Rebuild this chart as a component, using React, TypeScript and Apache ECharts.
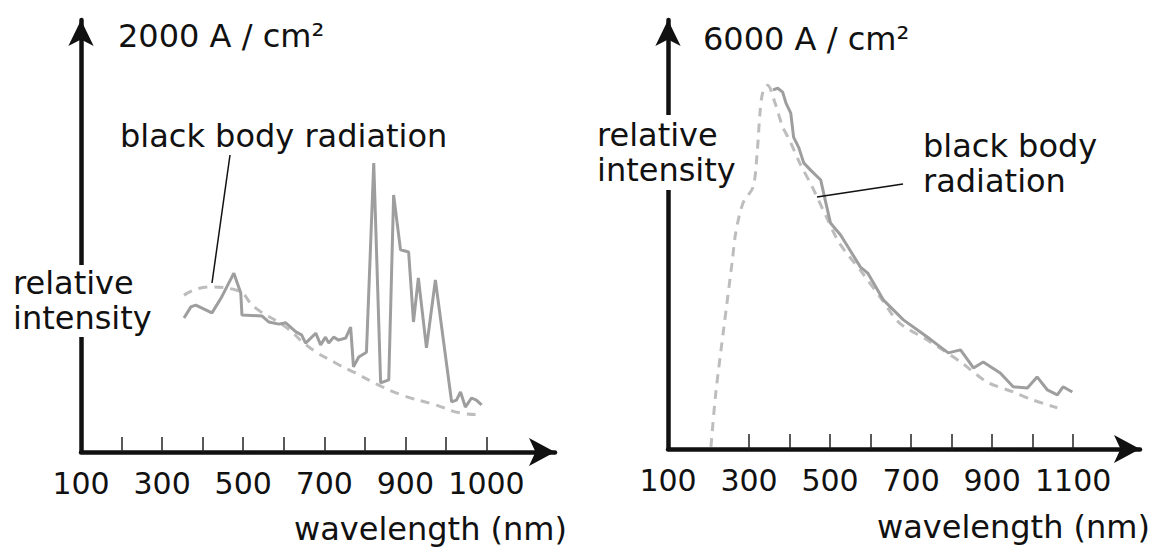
import React, { useEffect, useRef } from "react";
import * as echarts from "echarts";

const FONT = '"DejaVu Sans", "Liberation Sans", sans-serif';

// ---- left panel (2000 A / cm²) ----
const leftSolidX = [354, 371, 383, 423, 447, 477, 494, 497, 546, 563, 588, 605, 630, 644, 654, 679, 691, 703, 711, 723, 735, 753, 765, 772, 785, 804, 822, 839, 859, 871, 888, 908, 920, 932, 952, 974, 1014, 1026, 1036, 1048, 1063, 1075, 1088];
const leftSolidY = [31.0, 33.6, 34.0, 32.2, 35.9, 41.4, 36.8, 31.7, 31.5, 30.1, 29.6, 29.9, 27.8, 27.1, 25.2, 27.5, 24.8, 26.6, 25.2, 26.6, 25.9, 26.4, 28.9, 19.7, 22.0, 23.1, 66.9, 16.0, 16.7, 59.5, 46.8, 46.3, 30.1, 40.3, 24.1, 39.8, 11.6, 12.0, 13.9, 10.4, 12.5, 12.0, 10.9];
const leftBodyX = [354, 415, 482, 531, 605, 662, 728, 777, 834, 891, 974, 1038, 1073];
const leftBodyY = [36.3, 38.2, 37.5, 33.3, 28.9, 24.3, 20.6, 18.3, 15.5, 13.2, 10.9, 9.0, 8.7];
const leftTicks = [200, 300, 400, 500, 600, 700, 800, 900, 1000, 1100];
const leftLabelValues = [100, 300, 500, 700, 900, 1100];
const leftLabelTexts = ["100", "300", "500", "700", "900", "1000"];

// ---- right panel (6000 A / cm²) ----
const rightSolidX = [359, 371, 383, 391, 403, 410, 423, 435, 452, 477, 484, 492, 501, 526, 575, 593, 632, 681, 740, 772, 792, 822, 854, 878, 920, 952, 987, 1011, 1036, 1061, 1075, 1098];
const rightSolidY = [83.7, 84.1, 83.2, 80.7, 78.3, 72.7, 70.2, 66.7, 65.0, 62.7, 59.7, 56.4, 52.7, 49.9, 42.4, 41.0, 34.7, 30.1, 26.1, 23.8, 22.4, 23.1, 18.9, 20.3, 17.7, 14.5, 14.2, 16.8, 13.8, 12.6, 14.5, 13.3];
const rightBodyX = [206, 218, 238, 259, 267, 285, 310, 320, 327, 334, 346, 364, 383, 400, 425, 456, 491, 523, 580, 629, 671, 740, 822, 888, 952, 1001, 1061];
const rightBodyY = [0.5, 13.1, 28.4, 44.1, 50.3, 57.3, 61.1, 69.0, 78.3, 83.2, 84.8, 80.7, 75.1, 72.0, 66.7, 61.1, 54.1, 48.0, 41.0, 34.7, 29.4, 25.4, 20.3, 15.6, 13.3, 11.4, 9.6];
const rightTicks = [300, 400, 500, 600, 700, 800, 900, 1000, 1100];
const rightLabelValues = [100, 300, 500, 700, 900, 1100];
const rightLabelTexts = ["100", "300", "500", "700", "900", "1100"];

const zip = (xs: number[], ys: number[]) => xs.map((x, i) => [x, ys[i]]);

function xAxisCfg(gridIndex: number, max: number, ticks: number[], labelVals: number[], labelTexts: string[]) {
  return {
    type: "value",
    gridIndex,
    min: 100,
    max,
    axisLine: {
      show: true,
      onZero: false,
      symbol: ["none", "arrow"],
      symbolSize: [21, 26],
      lineStyle: { color: "#111", width: 4.5 },
    },
    axisTick: {
      show: true,
      inside: true,
      length: 15,
      customValues: ticks,
      lineStyle: { color: "#222", width: 1.5 },
    },
    axisLabel: {
      show: true,
      customValues: labelVals,
      formatter: (v: number) => {
        const i = labelVals.indexOf(v);
        return i >= 0 ? labelTexts[i] : "";
      },
      fontFamily: FONT,
      fontSize: 30,
      color: "#111",
      margin: 16,
    },
    splitLine: { show: false },
  };
}

function yAxisCfg(gridIndex: number) {
  return {
    type: "value",
    gridIndex,
    min: 0,
    max: 100,
    axisLine: {
      show: true,
      onZero: false,
      symbol: ["none", "arrow"],
      symbolSize: [19, 26],
      lineStyle: { color: "#111", width: 4.5 },
    },
    axisTick: { show: false },
    axisLabel: { show: false },
    splitLine: { show: false },
  };
}

const txt = (x: number, y: number, text: string, align = "left", size = 32) => ({
  type: "text",
  x,
  y,
  z: 100,
  style: {
    text,
    fontFamily: FONT,
    fontSize: size,
    fill: "#111",
    align,
    verticalAlign: "top",
    lineHeight: 32,
  },
});

export default function App() {
  const ref = useRef<HTMLDivElement>(null);
  useEffect(() => {
    const chart = echarts.init(ref.current!, null, { renderer: "svg" });
    chart.setOption({
      animation: false,
      backgroundColor: "#ffffff",
      grid: [
        { left: 81, top: 20, width: 474, height: 432 },
        { left: 668, top: 20, width: 472, height: 429 },
      ],
      xAxis: [
        xAxisCfg(0, 1269, leftTicks, leftLabelValues, leftLabelTexts),
        xAxisCfg(1, 1265, rightTicks, rightLabelValues, rightLabelTexts),
      ],
      yAxis: [yAxisCfg(0), yAxisCfg(1)],
      series: [
        {
          type: "line",
          xAxisIndex: 0,
          yAxisIndex: 0,
          data: zip(leftBodyX, leftBodyY),
          smooth: true,
          showSymbol: false,
          lineStyle: { color: "#bdbdbd", width: 3, type: [9, 7] },
        },
        {
          type: "line",
          xAxisIndex: 0,
          yAxisIndex: 0,
          data: zip(leftSolidX, leftSolidY),
          showSymbol: false,
          lineStyle: { color: "#9e9e9e", width: 3 },
        },
        {
          type: "line",
          xAxisIndex: 1,
          yAxisIndex: 1,
          data: zip(rightBodyX, rightBodyY),
          smooth: 0.3,
          showSymbol: false,
          lineStyle: { color: "#bdbdbd", width: 3, type: [9, 7] },
        },
        {
          type: "line",
          xAxisIndex: 1,
          yAxisIndex: 1,
          data: zip(rightSolidX, rightSolidY),
          showSymbol: false,
          lineStyle: { color: "#9e9e9e", width: 3 },
        },
      ],
      graphic: [
        { type: "rect", z: 99, shape: { x: 72, y: 265, width: 20, height: 72 }, style: { fill: "#fff" } },
        { type: "rect", z: 99, shape: { x: 658, y: 115, width: 20, height: 75 }, style: { fill: "#fff" } },
        txt(118, 20, "2000 A / cm²"),
        txt(703, 23, "6000 A / cm²"),
        txt(120, 120, "black body radiation"),
        txt(13, 267, "relative"),
        txt(13, 302, "intensity"),
        txt(597, 119, "relative"),
        txt(597, 154, "intensity"),
        txt(923, 130, "black body"),
        txt(923, 165, "radiation"),
        txt(567, 513, "wavelength (nm)", "right"),
        txt(1150, 511, "wavelength (nm)", "right"),
        { type: "line", z: 100, shape: { x1: 230, y1: 155, x2: 212, y2: 283 }, style: { stroke: "#111", lineWidth: 1.5 } },
        { type: "line", z: 100, shape: { x1: 817, y1: 197, x2: 903, y2: 184 }, style: { stroke: "#111", lineWidth: 1.5 } },
      ],
    });
    return () => chart.dispose();
  }, []);
  return (
    <div
      ref={ref}
      style={{ position: "fixed", left: 0, top: 0, width: 1158, height: 548, background: "#fff" }}
    />
  );
}
